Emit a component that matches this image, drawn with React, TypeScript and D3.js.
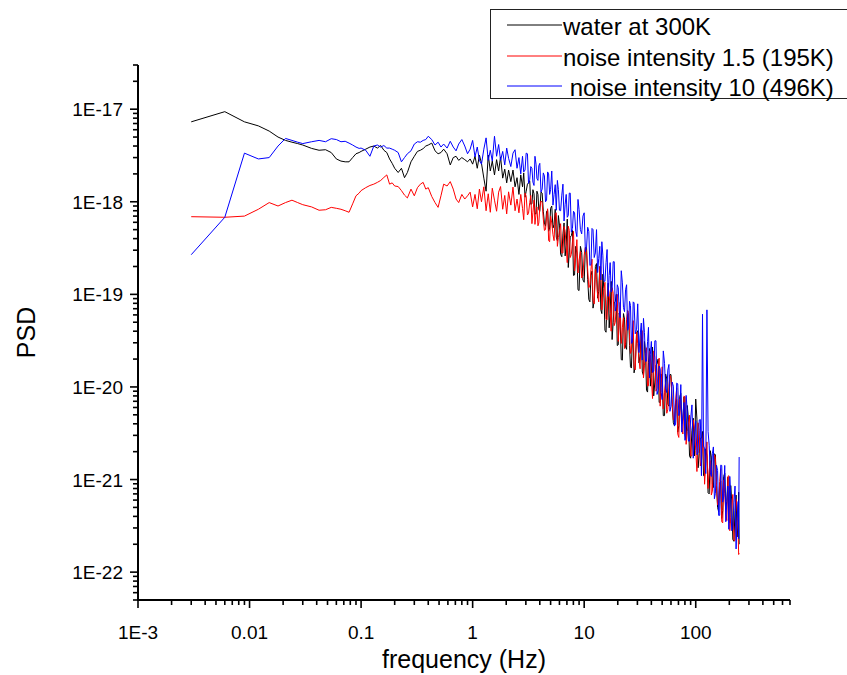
import React from 'react';
import * as d3 from 'd3';

// shared frequency grid (Hz)
const freq = [
  0.003, 0.006, 0.009, 0.012, 0.015, 0.018, 0.021, 0.024, 0.027, 0.030, 0.036, 0.042, 0.048, 0.054, 0.060, 0.066, 0.072, 0.078, 0.084, 0.090, 0.096,
  0.10, 0.11, 0.12, 0.13, 0.14, 0.15, 0.16, 0.17, 0.18, 0.19, 0.20, 0.215, 0.23, 0.245, 0.26, 0.28, 0.30, 0.32, 0.34, 0.36, 0.38, 0.40, 0.43, 0.46, 0.49, 0.52, 0.55, 0.59, 0.63, 0.67, 0.71, 0.75, 0.80, 0.85, 0.90, 0.95,
  1, 1.05, 1.1, 1.15, 1.2, 1.26, 1.32, 1.38, 1.44, 1.5, 1.57, 1.64, 1.71, 1.78, 1.86, 1.94, 2.02, 2.1, 2.2, 2.3, 2.4, 2.5, 2.6, 2.7, 2.8, 2.95, 3.1, 3.25, 3.4, 3.55, 3.7, 3.85, 4, 4.2, 4.4, 4.6, 4.8, 5, 5.25, 5.5, 5.75, 6, 6.3, 6.6, 6.9, 7.2, 7.5, 7.85, 8.2, 8.6, 9, 9.5,
  10, 10.5, 11, 11.5, 12, 12.6, 13.2, 13.8, 14.4, 15, 15.7, 16.4, 17.1, 17.8, 18.6, 19.4, 20.2, 21, 22, 23, 24, 25, 26, 27, 28, 29.5, 31, 32.5, 34, 35.5, 37, 38.5, 40, 42, 44, 46, 48, 50, 52.5, 55, 57.5, 60, 63, 66, 69, 72, 75, 78.5, 82, 86, 90, 95,
  100, 105, 110, 115, 120, 126, 132, 138, 144, 150, 157, 164, 171, 178, 186, 194, 202, 210, 220, 230, 240, 245,
];

// water at 300K (PSD) on freq
const water300K = [
  7.3e-18, 9.4e-18, 7.3e-18, 6.6e-18, 5.8e-18, 5.0e-18, 4.6e-18, 4.4e-18, 4.25e-18, 4.1e-18, 3.77e-18, 3.6e-18, 3.65e-18, 3.4e-18, 2.9e-18, 2.75e-18, 2.7e-18, 2.7e-18, 3.0e-18, 3.3e-18, 3.4e-18,
  3.5e-18, 3.7e-18, 3.9e-18, 4.0e-18, 3.8e-18, 4.05e-18, 3.6e-18, 3.4e-18, 2.9e-18, 2.6e-18, 2.3e-18, 2.07e-18, 2.3e-18, 1.82e-18, 2.07e-18, 2.7e-18, 3.1e-18, 3.5e-18, 3.6e-18, 3.75e-18, 4.0e-18, 4.1e-18, 4.3e-18, 3.55e-18, 3.3e-18, 3.4e-18, 3.7e-18, 3.3e-18, 2.5e-18, 3.0e-18, 3.1e-18, 2.8e-18, 3.0e-18, 2.85e-18, 2.7e-18, 2.9e-18,
  2.55e-18, 3.1e-18, 2.3e-18, 3.2e-18, 2.6e-18, 1.8e-18, 1.3e-18, 3.2e-18, 2.15e-18, 2.75e-18,
  1.95e-18, 2.85e-18, 2.15e-18, 3.05e-18, 1.8e-18, 2.25e-18, 1.6e-18, 2.2e-18, 1.65e-18, 2.2e-18,
  1.45e-18, 1.82e-18, 1.2e-18, 1.95e-18, 1.45e-18, 1.12e-18, 1.55e-18, 1.68e-18, 9.5e-19, 1.22e-18,
  7.4e-19, 1.2e-18, 7.9e-19, 1.24e-18, 5.9e-19, 7.9e-19, 4.8e-19, 8.5e-19, 5.2e-19, 8.3e-19,
  3.8e-19, 5.6e-19, 2.55e-19, 5.9e-19, 3.4e-19, 1.95e-19, 4.15e-19, 4.9e-19, 1.62e-19, 2.8e-19,
  1.1e-19, 2.85e-19, 1.35e-19, 3.2e-19, 8.8e-20, 1.6e-19, 7.1e-20, 2.0e-19, 9.1e-20, 2.0e-19,
  6.2e-20, 1.16e-19, 3.9e-20, 1.32e-19, 6.2e-20, 3.25e-20, 8.1e-20, 1.0e-19, 2.85e-20, 5.3e-20,
  1.95e-20, 5.4e-20, 2.55e-20, 6.2e-20, 1.65e-20, 3.15e-20, 1.42e-20, 3.85e-20, 1.82e-20, 3.85e-20,
  1.33e-20, 2.3e-20, 8.8e-21, 2.6e-20, 1.4e-20, 8.0e-21, 1.72e-20, 2.0e-20, 6.9e-21, 1.2e-20,
  4.9e-21, 1.22e-20, 6.2e-21, 1.36e-20, 4.1e-21, 6.9e-21, 3.25e-21, 7.9e-21, 4.0e-21, 7.8e-21,
  2.7e-21, 4.5e-21, 1.7e-21, 4.6e-21, 7.4e-21, 1.34e-21, 2.8e-21, 3.3e-21, 1.1e-21, 1.8e-21,
  7.0e-22, 1.75e-21, 8.2e-22, 1.85e-21, 5.0e-22, 8.9e-22, 3.8e-22, 1.08e-21, 4.8e-22, 1.06e-21,
  3.4e-22, 6.0e-22, 2.15e-22, 6.8e-22, 3.4e-22, 2.0e-22,
];

// noise intensity 1.5 (195K) on freq
const noise15 = [
  6.9e-19, 6.8e-19, 7.0e-19, 8.3e-19, 9.8e-19, 9.0e-19, 9.8e-19, 1.04e-18, 9.8e-19, 9.3e-19, 8.8e-19, 8.1e-19, 8.2e-19, 8.7e-19, 8.5e-19, 8.3e-19, 8.0e-19, 7.7e-19, 9.5e-19, 1.16e-18, 1.24e-18,
  1.32e-18, 1.42e-18, 1.5e-18, 1.55e-18, 1.62e-18, 1.7e-18, 1.83e-18, 1.95e-18, 1.55e-18, 1.6e-18, 1.48e-18, 1.46e-18, 1.32e-18, 1.18e-18, 1.1e-18, 1.37e-18, 1.16e-18, 1.42e-18, 1.55e-18, 1.62e-18, 1.37e-18, 1.42e-18, 1.14e-18, 9.8e-19, 8.7e-19, 1.16e-18, 1.55e-18, 1.48e-18, 1.65e-18, 1.37e-18, 1.07e-18, 9.8e-19, 1.2e-18, 1.07e-18, 1.16e-18, 1.27e-18,
  8.8e-19, 1.2e-18, 8.4e-19, 1.37e-18, 1.0e-18, 1.45e-18, 8.0e-19, 1.22e-18, 7.7e-19, 1.4e-18,
  1.04e-18, 7.9e-19, 1.27e-18, 1.46e-18, 8.3e-19, 1.17e-18, 7.4e-19, 1.28e-18, 9.2e-19, 1.44e-18,
  8.0e-19, 1.07e-18, 7.6e-19, 1.2e-18, 8.5e-19, 1.24e-18, 7.2e-19, 9.8e-19, 5.8e-19, 1.04e-18,
  7.4e-19, 5.5e-19, 8.8e-19, 9.8e-19, 4.9e-19, 6.9e-19, 3.8e-19, 7.0e-19, 4.4e-19, 7.5e-19,
  3.3e-19, 4.8e-19, 2.8e-19, 5.4e-19, 3.3e-19, 5.45e-19, 2.5e-19, 3.7e-19, 1.8e-19, 3.9e-19,
  2.35e-19, 1.5e-19, 2.65e-19, 2.9e-19, 1.18e-19, 1.86e-19, 8.6e-20, 1.86e-19, 9.8e-20, 2.0e-19,
  6.8e-20, 1.09e-19, 5.4e-20, 1.2e-19, 6.4e-20, 1.18e-19, 4.6e-20, 7.6e-20, 3.1e-20, 8.2e-20,
  4.4e-20, 2.6e-20, 5.4e-20, 6.4e-20, 2.3e-20, 3.9e-20, 1.66e-20, 3.9e-20, 1.95e-20, 4.05e-20,
  1.25e-20, 2.15e-20, 1.02e-20, 2.45e-20, 1.26e-20, 2.45e-20, 9.0e-21, 1.5e-20, 6.2e-21, 1.65e-20,
  8.7e-21, 5.2e-21, 1.05e-20, 1.24e-20, 4.4e-21, 7.2e-21, 3.1e-21, 7.4e-21, 3.7e-21, 8.0e-21,
  2.4e-21, 4.0e-21, 1.8e-21, 4.4e-21, 2.05e-21, 4.1e-21, 1.4e-21, 2.4e-21, 8.9e-22, 2.55e-21,
  1.25e-21, 6.8e-22, 1.5e-21, 1.7e-21, 5.3e-22, 9.5e-22, 3.5e-22, 9.9e-22, 4.4e-22, 1.08e-21,
  2.8e-22, 5.2e-22, 2.2e-22, 6.1e-22, 2.8e-22, 1.6e-22,
];

// noise intensity 10 (496K) on freq
const noise10 = [
  2.68e-19, 6.8e-19, 3.35e-18, 2.9e-18, 3.0e-18, 4.0e-18, 4.83e-18, 4.6e-18, 4.4e-18, 4.25e-18, 4.45e-18, 4.6e-18, 4.45e-18, 4.8e-18, 4.7e-18, 4.45e-18, 4.5e-18, 4.3e-18, 4.1e-18, 3.9e-18, 3.77e-18,
  3.8e-18, 3.6e-18, 3.1e-18, 4.0e-18, 4.1e-18, 3.9e-18, 4.05e-18, 3.8e-18, 3.8e-18, 3.7e-18, 3.6e-18, 3.4e-18, 2.7e-18, 3.0e-18, 3.3e-18, 3.55e-18, 4.2e-18, 4.45e-18, 4.4e-18, 4.6e-18, 4.7e-18, 5.1e-18, 4.7e-18, 4.1e-18, 4.4e-18, 3.9e-18, 4.2e-18, 3.8e-18, 4.5e-18, 3.9e-18, 3.55e-18, 4.2e-18, 4.7e-18, 4.0e-18, 3.3e-18, 3.7e-18,
  4.6e-18, 3.05e-18, 3.9e-18, 2.8e-18, 2.55e-18, 3.7e-18, 4.9e-18, 2.8e-18, 3.6e-18, 2.75e-18,
  5.1e-18, 3.1e-18, 4.15e-18, 2.8e-18, 3.5e-18, 2.5e-18, 3.8e-18, 2.95e-18, 2.4e-18, 3.35e-18,
  3.65e-18, 2.3e-18, 3.0e-18, 2.0e-18, 3.1e-18, 2.2e-18, 3.3e-18, 1.75e-18, 2.3e-18, 1.5e-18,
  2.55e-18, 1.7e-18, 2.6e-18, 1.37e-18, 1.9e-18, 1.04e-18, 2.0e-18, 1.35e-18, 9.2e-19, 1.53e-18,
  1.7e-18, 8.1e-19, 1.18e-18, 6.2e-19, 1.2e-18, 7.1e-19, 1.24e-18, 5.15e-19, 7.6e-19, 4.2e-19,
  8.2e-19, 4.5e-19, 7.6e-19, 3.2e-19, 4.8e-19, 2.1e-19, 5.0e-19, 2.8e-19, 1.72e-19, 3.3e-19,
  3.7e-19, 1.4e-19, 2.2e-19, 9.5e-20, 2.2e-19, 1.12e-19, 2.25e-19, 7.4e-20, 1.18e-19, 5.6e-20,
  1.33e-19, 6.5e-20, 1.27e-19, 4.5e-20, 7.6e-20, 3.05e-20, 8.1e-20, 4.2e-20, 2.35e-20, 4.9e-20,
  5.5e-20, 1.88e-20, 3.1e-20, 1.25e-20, 3.1e-20, 1.48e-20, 3.15e-20, 9.2e-21, 1.57e-20, 7.3e-21,
  1.8e-20, 8.7e-21, 1.75e-20, 6.2e-21, 1.02e-20, 3.9e-21, 1.08e-20, 5.6e-21, 3.25e-21, 6.8e-21,
  8.1e-21, 2.6e-21, 4.5e-21, 1.7e-21, 4.3e-21, 1.95e-21, 4.45e-21, 6.1e-20, 2.15e-21, 6.8e-20,
  2.35e-21, 1.08e-21, 2.25e-21, 7.1e-22, 1.25e-21, 4.1e-22, 1.42e-21, 6.6e-22, 3.5e-22, 8.5e-22,
  1.08e-21, 2.8e-22, 5.6e-22, 1.78e-22, 5.8e-22, 1.75e-21,
];

// additional in-between frequency bins (Hz) of the dense high-frequency region
const freqB = [
  2.87, 3.02, 3.17, 3.32, 3.47, 3.62, 3.77, 3.92, 4.1, 4.3, 4.5, 4.7, 4.9, 5.12, 5.37, 5.62, 5.87, 6.15, 6.45, 6.75, 7.05, 7.35, 7.67, 8.02, 8.4, 8.8, 9.25, 9.75,
  10.25, 10.75, 11.25, 11.75, 12.3, 12.9, 13.5, 14.1, 14.7, 15.35, 16.05, 16.75, 17.45, 18.2, 19.0, 19.8, 20.6, 21.5, 22.5, 23.5, 24.5, 25.5, 26.5, 27.5, 28.7, 30.2, 31.7, 33.2, 34.7, 36.2, 37.7, 39.2, 41, 43, 45, 47, 49, 51.2, 53.7, 56.2, 58.7, 61.5, 64.5, 67.5, 70.5, 73.5, 76.7, 80.2, 84, 88, 92.5, 97.5,
  102.5, 107.5, 112.5, 117.5, 123, 129, 135, 141, 147, 153.5, 160.5, 167.5, 174.5, 182, 190, 198, 206, 215, 225, 235, 242.5,
];

const water300KB = [
  2.05e-18, 1.3e-18, 1.6e-18, 9.4e-19, 1.35e-18, 7.4e-19, 1.3e-18, 8.2e-19, 1.27e-18, 7.9e-19,
  5.45e-19, 8.1e-19, 5.2e-19, 9.0e-19, 5.7e-19, 4.15e-19, 7.1e-19, 2.7e-19, 4.5e-19, 2.6e-19,
  6.5e-19, 2.8e-19, 4.3e-19, 1.6e-19, 3.3e-19, 1.12e-19, 3.3e-19, 1.43e-19, 3.2e-19, 1.45e-19,
  8.3e-20, 1.78e-19, 8.5e-20, 2.15e-19, 1.08e-19, 6.8e-20, 1.65e-19, 4.1e-20, 8.8e-20, 4.35e-20,
  1.38e-19, 5.0e-20, 8.4e-20, 2.8e-20, 6.3e-20, 1.97e-20, 6.2e-20, 2.7e-20, 6.1e-20, 2.8e-20,
  1.6e-20, 3.35e-20, 1.68e-20, 4.05e-20, 2.15e-20, 1.45e-20, 3.1e-20, 9.2e-21, 1.85e-20, 1.02e-20,
  2.7e-20, 1.13e-20, 1.78e-20, 6.8e-21, 1.38e-20, 4.9e-21, 1.38e-20, 6.5e-21, 1.36e-20, 6.5e-21,
  3.8e-21, 7.3e-21, 3.8e-21, 8.5e-21, 4.5e-21, 3.0e-21, 6.3e-21, 1.8e-21, 3.4e-21, 1.8e-21,
  4.5e-21, 1.9e-21, 2.8e-21, 1.1e-21, 2.15e-21, 7.2e-22, 2.05e-21, 8.9e-22, 1.9e-21, 8.6e-22,
  4.5e-22, 9.6e-22, 4.6e-22, 1.17e-21, 5.8e-22, 3.7e-22, 8.6e-22, 2.25e-22, 4.6e-22, 2.4e-22,
  7.3e-22,
];

const noise15B = [
  6.4e-19, 1.15e-18, 7.5e-19, 1.17e-18, 7.7e-19, 5.7e-19, 8.8e-19, 5.9e-19, 1.02e-18, 6.5e-19,
  5.0e-19, 8.4e-19, 3.7e-19, 5.9e-19, 3.8e-19, 7.6e-19, 4.1e-19, 5.8e-19, 2.8e-19, 4.8e-19,
  2.2e-19, 4.9e-19, 2.7e-19, 4.8e-19, 2.6e-19, 1.7e-19, 2.9e-19, 1.6e-19, 3.2e-19, 1.82e-19,
  1.26e-19, 2.4e-19, 7.9e-20, 1.45e-19, 8.3e-20, 2.0e-19, 9.0e-20, 1.35e-19, 5.3e-20, 1.03e-19,
  4.0e-20, 1.03e-19, 5.0e-20, 1.0e-19, 5.0e-20, 2.95e-20, 5.6e-20, 2.95e-20, 6.7e-20, 3.6e-20,
  2.45e-20, 5.2e-20, 1.53e-20, 2.95e-20, 1.57e-20, 4.05e-20, 1.72e-20, 2.65e-20, 1.03e-20, 2.1e-20,
  7.5e-21, 2.1e-20, 9.7e-21, 2.05e-20, 9.9e-21, 5.8e-21, 1.12e-20, 5.75e-21, 1.33e-20, 6.9e-21,
  4.6e-21, 9.7e-21, 2.85e-21, 5.6e-21, 3.1e-21, 7.8e-21, 3.3e-21, 4.95e-21, 1.8e-21, 3.55e-21,
  1.22e-21, 3.4e-21, 1.55e-21, 3.3e-21, 1.5e-21, 8.0e-22, 1.6e-21, 7.5e-22, 1.85e-21, 9.0e-22,
  5.6e-22, 1.31e-21, 3.4e-22, 7.1e-22, 3.6e-22, 1.1e-21, 3.9e-22, 6.9e-22, 2.2e-22, 5.1e-22,
  1.55e-22,
];

const noise10B = [
  2.1e-18, 3.35e-18, 1.58e-18, 2.4e-18, 1.63e-18, 3.1e-18, 1.78e-18, 2.45e-18, 1.27e-18, 2.05e-18,
  1.0e-18, 2.1e-18, 1.2e-18, 2.15e-18, 1.2e-18, 8.1e-19, 1.35e-18, 8.0e-19, 1.55e-18, 9.4e-19,
  6.8e-19, 1.24e-18, 4.7e-19, 7.9e-19, 4.8e-19, 1.06e-18, 5.0e-19, 7.0e-19, 2.9e-19, 5.3e-19,
  2.05e-19, 5.15e-19, 2.5e-19, 5.0e-19, 2.45e-19, 1.43e-19, 2.65e-19, 1.38e-19, 3.05e-19, 1.6e-19,
  1.06e-19, 2.25e-19, 6.6e-20, 1.27e-19, 6.7e-20, 1.8e-19, 7.2e-20, 1.12e-19, 4.1e-20, 8.4e-20,
  2.95e-20, 8.3e-20, 3.75e-20, 7.9e-20, 3.55e-20, 1.95e-20, 3.85e-20, 1.9e-20, 4.4e-20, 2.25e-20,
  1.43e-20, 3.15e-20, 8.3e-21, 1.68e-20, 8.7e-21, 2.45e-20, 9.6e-21, 1.52e-20, 5.45e-21, 1.13e-20,
  3.8e-21, 1.1e-20, 4.9e-21, 1.06e-20, 4.85e-21, 2.65e-21, 5.5e-21, 2.6e-21, 6.4e-21, 3.1e-21,
  1.85e-21, 4.4e-21, 1.1e-21, 2.3e-21, 1.16e-21, 3.3e-21, 1.2e-21, 1.9e-21, 6.2e-22, 1.43e-21,
  4.1e-22, 1.43e-21, 5.7e-22, 1.42e-21, 5.7e-22, 2.9e-22, 6.8e-22, 2.9e-22, 8.5e-22, 3.8e-22,
  2.3e-22,
];

const seriesNames = ['water at 300K', 'noise intensity 1.5 (195K)', ' noise intensity 10 (496K)'];
const seriesColors = ['#000000', '#ff0000', '#0000ff'];
const seriesMain = [water300K, noise15, noise10];
const seriesExtra = [water300KB, noise15B, noise10B];

const xMajorTicks = [1e-3, 0.01, 0.1, 1, 10, 100];
const xTickLabels = ['1E-3', '0.01', '0.1', '1', '10', '100'];
const yMajorTicks = [1e-22, 1e-21, 1e-20, 1e-19, 1e-18, 1e-17];
const yTickLabels = ['1E-22', '1E-21', '1E-20', '1E-19', '1E-18', '1E-17'];
const xDomain = [1e-3, 700];
const yDomain = [5e-23, 3e-17];

const FONT = '"Liberation Sans", Arial, Helvetica, sans-serif';

function isMajor(v: number) {
  const l = Math.log10(v);
  return Math.abs(l - Math.round(l)) < 1e-6;
}

function mergePoints(fa: number[], va: number[], fb: number[], vb: number[]) {
  const pts: [number, number][] = [];
  for (let i = 0; i < Math.min(fa.length, va.length); i++) pts.push([fa[i], va[i]]);
  for (let i = 0; i < Math.min(fb.length, vb.length); i++) pts.push([fb[i], vb[i]]);
  pts.sort((a, b) => a[0] - b[0]);
  return pts;
}

export default function App() {
  const W = 847;
  const H = 675;
  const left = 138, right = 790, top = 65, bottom = 600;

  const x = d3.scaleLog().domain(xDomain).range([left, right]);
  const y = d3.scaleLog().domain(yDomain).range([bottom, top]);

  const line = d3.line<[number, number]>().x(d => x(d[0])).y(d => y(d[1]));

  const xTicks = x.ticks();
  const yTicks = y.ticks();

  return (
    <svg width={W} height={H} viewBox={`0 0 ${W} ${H}`}
      style={{ position: 'absolute', left: 0, top: 0, background: '#fff', display: 'block' }}
      fontFamily={FONT}>
      <rect x={0} y={0} width={W} height={H} fill="#fff" />

      {/* data */}
      {seriesMain.map((vals, i) => (
        <path key={i} d={line(mergePoints(freq, vals, freqB, seriesExtra[i])) || ''}
          fill="none" stroke={seriesColors[i]} strokeWidth={1} />
      ))}

      {/* axes */}
      <line x1={left} x2={left} y1={top} y2={bottom} stroke="#000" strokeWidth={2} />
      <line x1={left - 1} x2={right} y1={bottom} y2={bottom} stroke="#000" strokeWidth={2} />

      {xTicks.map((v, i) => {
        const major = isMajor(v);
        const px = x(v);
        return <line key={'xt' + i} x1={px} x2={px} y1={bottom} y2={bottom + (major ? 8 : 5)} stroke="#000" strokeWidth={1.6} />;
      })}
      {yTicks.map((v, i) => {
        const major = isMajor(v);
        const py = y(v);
        return <line key={'yt' + i} x1={left} x2={left - (major ? 8 : 5)} y1={py} y2={py} stroke="#000" strokeWidth={1.6} />;
      })}

      {xMajorTicks.map((v, i) => (
        <text key={'xl' + i} x={x(v)} y={639} textAnchor="middle" fontSize={19} fill="#000">{xTickLabels[i]}</text>
      ))}
      {yMajorTicks.map((v, i) => (
        <text key={'yl' + i} x={123} y={y(v) + 7} textAnchor="end" fontSize={19} fill="#000">{yTickLabels[i]}</text>
      ))}

      <text x={(left + right) / 2} y={668} textAnchor="middle" fontSize={25} fill="#000">frequency (Hz)</text>
      <text transform={`translate(35,${(top + bottom) / 2}) rotate(-90)`} textAnchor="middle" fontSize={25} fill="#000">PSD</text>

      {/* legend (box runs past the right edge of the picture) */}
      <rect x={490.5} y={9.5} width={370} height={89} fill="#fff" stroke="#222" strokeWidth={1} />
      {seriesNames.map((name, i) => {
        const ly = [25, 56, 86][i];
        return (
          <g key={'lg' + i}>
            <line x1={507} x2={562} y1={ly} y2={ly} stroke={seriesColors[i]} strokeWidth={1} />
            <text x={563} y={ly + 9.5} fontSize={24} fill="#000" xmlSpace="preserve" style={{ whiteSpace: 'pre' }}>{name}</text>
          </g>
        );
      })}
    </svg>
  );
}
